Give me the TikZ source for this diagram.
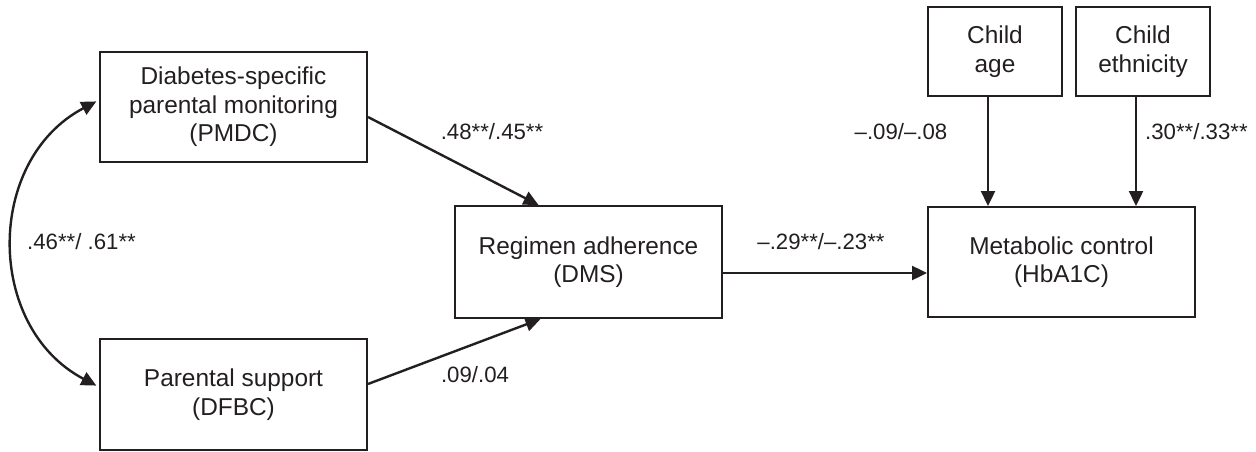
\documentclass[tikz,border=0pt]{standalone}
\usepackage{fontspec}
\setmainfont{Liberation Sans}
\usetikzlibrary{arrows.meta}
\definecolor{ink}{RGB}{35,31,32}
\tikzset{
  box/.style={draw=ink, line width=2pt, text=ink, align=center, inner sep=0pt,
    font=\fontsize{24.4}{28.5}\selectfont},
  bigbox/.style={box, minimum width=267pt, minimum height=110pt},
  smallbox/.style={box, minimum width=134pt, minimum height=89pt},
  arr/.style={draw=ink, line width=2.4pt, -{Triangle[length=15pt,width=14pt]}},
  biarr/.style={draw=ink, line width=2.4pt, {Triangle[length=15pt,width=14pt]}-{Triangle[length=15pt,width=14pt]}},
  lab/.style={text=ink, inner sep=0pt, font=\fontsize{22.2}{26}\selectfont}
}
\begin{document}
\begin{tikzpicture}[x=1pt,y=-1pt]
\useasboundingbox (0,0) rectangle (1256,452);
\node[bigbox] (pm) at (233.5,107) {Diabetes-specific\\parental monitoring\\(PMDC)};
\node[bigbox, minimum height=111pt] (ps) at (233.5,394.5) {Parental support\\(DFBC)};
\node[bigbox, minimum height=112pt] (dms) at (588.5,262) {Regimen adherence\\(DMS)};
\node[bigbox] (hb) at (1061.5,262) {Metabolic control\\(HbA1C)};
\node[smallbox] (age) at (995,51.5) {Child\\age};
\node[smallbox] (eth) at (1143,51.5) {Child\\ethnicity};

\draw[arr] ([yshift=-10pt]pm.east) -- ([xshift=-50pt]dms.north);
\draw[arr] ([yshift=10.5pt]ps.east) -- ([xshift=-48pt]dms.south);
\draw[arr] ([yshift=-11pt]dms.east) -- ([yshift=-11pt]hb.west);
\draw[arr] ([xshift=-7pt]age.south) -- ([xshift=-7pt]age.south |- hb.north);
\draw[arr] ([xshift=-7pt]eth.south) -- ([xshift=-7pt]eth.south |- hb.north);
\draw[biarr, shorten <=3pt, shorten >=3pt] ([yshift=7pt]pm.west) .. controls (-15,160) and (-15,327) .. ([yshift=7.5pt]ps.west);

\node[lab] (l1) at (492,132) {.48**/.45**};
\node[lab] (l2) at (475,375) {.09/.04};
\node[lab] (l3) at (821,242) {–.29**/–.23**};
\node[lab] (l4) at (901,132) {–.09/–.08};
\node[lab, anchor=west] (l5) at (1145,132) {.30**/.33**};
\node[lab, anchor=west] (l6) at (27,242) {.46**/ .61**};
\end{tikzpicture}
\end{document}
